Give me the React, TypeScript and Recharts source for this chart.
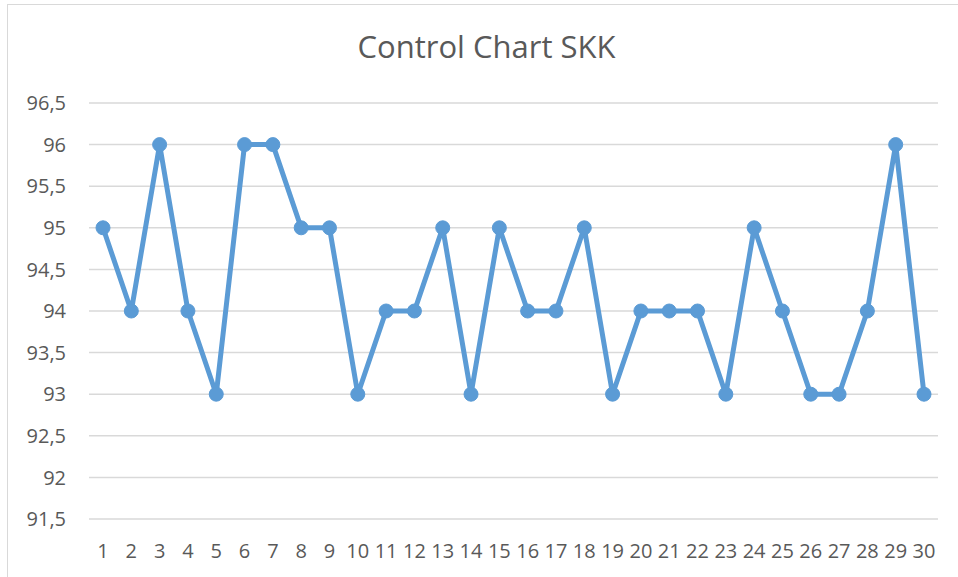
import React from 'react'
import { LineChart, Line, XAxis, YAxis, CartesianGrid } from 'recharts'

const samples = [
  '1', '2', '3', '4', '5', '6', '7', '8', '9', '10',
  '11', '12', '13', '14', '15', '16', '17', '18', '19', '20',
  '21', '22', '23', '24', '25', '26', '27', '28', '29', '30',
]
const skkValues = [
  95, 94, 96, 94, 93, 96, 96, 95, 95, 93,
  94, 94, 95, 93, 95, 94, 94, 95, 93, 94,
  94, 94, 93, 95, 94, 93, 93, 94, 96, 93,
]
const yTicks = [91.5, 92, 92.5, 93, 93.5, 94, 94.5, 95, 95.5, 96, 96.5]

const data = samples.map((s, i) => ({ sample: s, skk: skkValues[i] }))

const font = '"Open Sans", sans-serif'
const textColor = '#595959'

export default function App() {
  return (
    <div style={{ position: 'absolute', left: 0, top: 0, width: 958, height: 577, background: '#fff', fontFamily: font }}>
      {/* chart outline, only left and top edges show in the crop */}
      <div style={{ position: 'absolute', left: 7, top: 4, width: 960, height: 580, borderLeft: '1px solid #d9d9d9', borderTop: '1px solid #d9d9d9' }} />
      <div style={{ position: 'absolute', left: 0, top: 31, width: 973, textAlign: 'center', fontSize: 31, lineHeight: '31px', color: textColor }}>
        Control Chart SKK
      </div>
      <div style={{ position: 'absolute', left: 0, top: 0 }}>
        <LineChart width={958} height={577} data={data} margin={{ top: 103, right: 20, bottom: 18, left: 0 }}>
          <CartesianGrid horizontal vertical={false} stroke="#d9d9d9" strokeWidth={1.5} />
          <XAxis
            dataKey="sample"
            padding={{ left: 14, right: 14 }}
            axisLine={false}
            tickLine={false}
            tickSize={0}
            tickMargin={25}
            height={40}
            interval={0}
            tick={{ fill: textColor, fontSize: 20, fontFamily: font }}
          />
          <YAxis
            domain={[91.5, 96.5]}
            ticks={yTicks}
            width={89}
            axisLine={false}
            tickLine={false}
            tickSize={0}
            tickMargin={23}
            tickFormatter={(v: number) => String(v).replace('.', ',')}
            tick={{ fill: textColor, fontSize: 20, fontFamily: font }}
          />
          <Line
            type="linear"
            dataKey="skk"
            stroke="#5b9bd5"
            strokeWidth={5}
            dot={{ r: 7, fill: '#5b9bd5', stroke: '#5b9bd5', strokeWidth: 1 }}
            isAnimationActive={false}
          />
        </LineChart>
      </div>
    </div>
  )
}
